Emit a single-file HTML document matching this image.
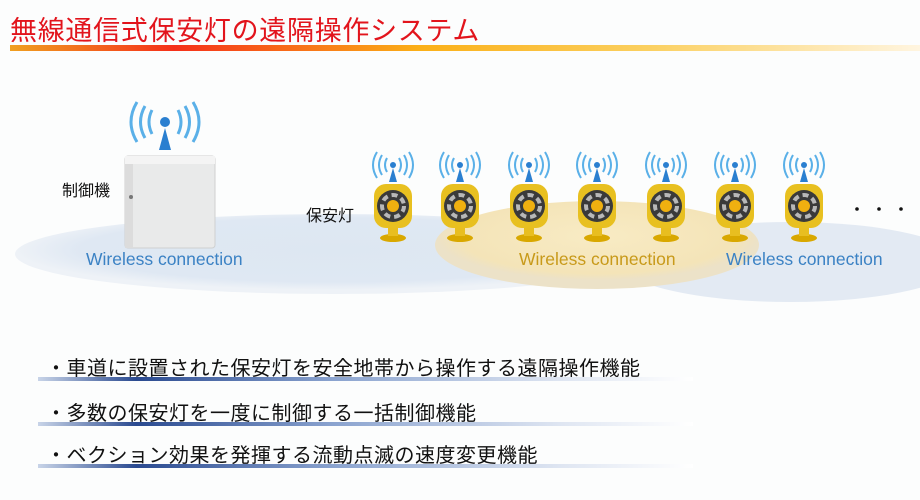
<!DOCTYPE html>
<html><head><meta charset="utf-8"><style>
body{margin:0;width:920px;height:500px;background:#fcfdfd;position:relative;overflow:hidden;font-family:"Liberation Sans","Noto Sans CJK JP",sans-serif}
.t{position:absolute;left:10px;top:9px;font-size:27px;color:#e2141c;letter-spacing:0.7px;font-family:"Liberation Sans","Noto Sans CJK JP",sans-serif}
.bar{position:absolute;left:10px;top:45px;width:910px;height:6px;background:linear-gradient(90deg,#f0a020 0%,#f5301a 18%,#fbb018 45%,#fbd060 70%,#fff5e0 100%)}
.b{position:absolute;left:46px;font-size:20px;color:#111;letter-spacing:0.5px}
.u{position:absolute;left:38px;width:655px;height:4px;background:linear-gradient(90deg,#c8d4e8 0%,#2a4a90 15%,#8aa3cf 45%,#dfe6f2 80%,#fff 100%)}
.lbl{position:absolute;font-size:17.5px}
</style></head><body>
<div class="t">無線通信式保安灯の遠隔操作システム</div>
<div class="bar"></div>
<svg width="920" height="500" style="position:absolute;left:0;top:0">
<defs>
<radialGradient id="bl" cx="50%" cy="45%" r="50%"><stop offset="0" stop-color="#dde7f2"/><stop offset="0.8" stop-color="#dfe8f3"/><stop offset="1" stop-color="#eef2f7"/></radialGradient>
<radialGradient id="yl" cx="50%" cy="40%" r="50%"><stop offset="0" stop-color="#f8ebc4"/><stop offset="0.85" stop-color="#f4e4b8"/><stop offset="1" stop-color="#ece2c8"/></radialGradient>
</defs>
<ellipse cx="790" cy="262" rx="170" ry="40" fill="#e3eaf3"/>
<ellipse cx="335" cy="254" rx="320" ry="40" fill="url(#bl)"/>
<ellipse cx="597" cy="245" rx="162" ry="44" fill="url(#yl)"/>
<g fill="none" stroke="#5ab0e8" stroke-width="3">
<path d="M152 110 q-6 12 0 24"/><path d="M145 106 q-9 16 0 32"/><path d="M137 102 q-12 20 0 40"/>
<path d="M178 110 q6 12 0 24"/><path d="M185 106 q9 16 0 32"/><path d="M193 102 q12 20 0 40"/>
</g>
<circle cx="165" cy="122" r="5" fill="#2a7fd0"/>
<polygon points="165,128 159,150 171,150" fill="#2a7fd0"/>
<rect x="125" y="156" width="90" height="92" rx="3" fill="#e9eaea" stroke="#cfd0d0"/>
<rect x="125" y="156" width="90" height="8" fill="#f4f4f4"/>
<rect x="125" y="164" width="8" height="84" fill="#dcdcdc"/>
<circle cx="131" cy="197" r="2" fill="#777"/>
<g id="lamps"></g>
<g fill="#111"><circle cx="857" cy="209" r="1.8"/><circle cx="879" cy="209" r="1.8"/><circle cx="901" cy="209" r="1.8"/></g>
</svg>
<div class="lbl" style="left:62px;top:177px;color:#111;font-size:16px">制御機</div>
<div class="lbl" style="left:306px;top:202px;color:#111;font-size:16px">保安灯</div>
<div class="lbl" style="left:86px;top:249px;color:#3b82c4">Wireless connection</div>
<div class="lbl" style="left:519px;top:249px;color:#c89a1a">Wireless connection</div>
<div class="lbl" style="left:726px;top:249px;color:#3b82c4">Wireless connection</div>
<div class="b" style="top:352px">・車道に設置された保安灯を安全地帯から操作する遠隔操作機能</div>
<div class="u" style="top:377px"></div>
<div class="b" style="top:397px">・多数の保安灯を一度に制御する一括制御機能</div>
<div class="u" style="top:422px"></div>
<div class="b" style="top:439px">・ベクション効果を発揮する流動点滅の速度変更機能</div>
<div class="u" style="top:464px"></div>
<script>
var g=document.getElementById('lamps'),s='';
[393,460,529,597,666,735,804].forEach(function(x){
s+='<g fill="none" stroke="#5ab0e8" stroke-width="2"><path d="M'+(x-6)+' 158 q-4 7 0 14"/><path d="M'+(x-11)+' 155 q-6 10 0 20"/><path d="M'+(x-16)+' 152 q-8 13 0 26"/><path d="M'+(x+6)+' 158 q4 7 0 14"/><path d="M'+(x+11)+' 155 q6 10 0 20"/><path d="M'+(x+16)+' 152 q8 13 0 26"/></g>';
s+='<circle cx="'+x+'" cy="165" r="3" fill="#2a7fd0"/><polygon points="'+x+',168 '+(x-4)+',182 '+(x+4)+',182" fill="#2a7fd0"/>';
s+='<ellipse cx="'+x+'" cy="238" rx="13" ry="4" fill="#d9a800"/><rect x="'+(x-5)+'" y="226" width="10" height="10" fill="#e8be20"/>';
s+='<rect x="'+(x-19)+'" y="184" width="38" height="44" rx="12" fill="#e8c020"/>';
s+='<circle cx="'+x+'" cy="206" r="16" fill="#3a3a3a"/><circle cx="'+x+'" cy="206" r="11" fill="none" stroke="#b8b8b8" stroke-width="4" stroke-dasharray="6 4"/>';
s+='<circle cx="'+x+'" cy="206" r="6" fill="#f0b010"/>';
});
g.innerHTML=s;
</script>
</body></html>
